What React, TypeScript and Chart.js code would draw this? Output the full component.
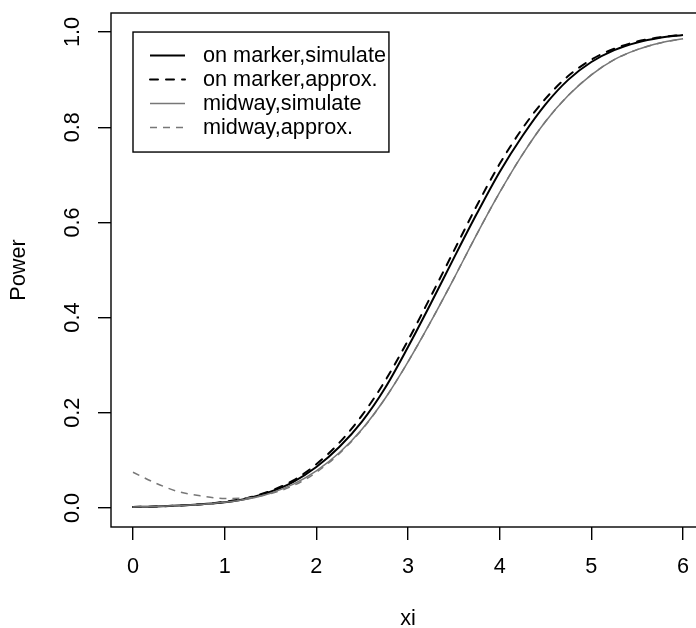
import React, { useEffect, useRef } from 'react';
import { Chart, registerables } from 'chart.js';

Chart.register(...registerables);

// ---- data ----
const xi = [0, 0.25, 0.5, 0.75, 1, 1.25, 1.5, 1.75, 2, 2.25, 2.5, 2.75, 3, 3.25, 3.5, 3.75, 4, 4.25, 4.5, 4.75, 5, 5.25, 5.5, 5.75, 6];
const onMarkerSimulate = [0.002, 0.003, 0.005, 0.008, 0.012, 0.02, 0.034, 0.055, 0.086, 0.128, 0.182, 0.252, 0.338, 0.43, 0.525, 0.618, 0.706, 0.782, 0.848, 0.9, 0.937, 0.962, 0.978, 0.988, 0.994];
const onMarkerApprox = [0.002, 0.003, 0.005, 0.008, 0.013, 0.021, 0.036, 0.058, 0.092, 0.137, 0.195, 0.267, 0.352, 0.445, 0.54, 0.635, 0.723, 0.798, 0.86, 0.908, 0.942, 0.965, 0.98, 0.989, 0.994];
const midwaySimulate = [0.002, 0.003, 0.005, 0.008, 0.012, 0.019, 0.031, 0.05, 0.078, 0.116, 0.166, 0.23, 0.307, 0.392, 0.482, 0.575, 0.663, 0.743, 0.812, 0.867, 0.91, 0.942, 0.963, 0.977, 0.986];
const midwayApprox = [0.075, 0.052, 0.034, 0.025, 0.02, 0.021, 0.03, 0.047, 0.075, 0.114, 0.165, 0.23, 0.307, 0.392, 0.482, 0.575, 0.663, 0.743, 0.812, 0.867, 0.91, 0.942, 0.963, 0.977, 0.986];

const seriesLabels = ['on marker,simulate', 'on marker,approx.', 'midway,simulate', 'midway,approx.'];
const xTicks = [0, 1, 2, 3, 4, 5, 6];
const yTicks = [0, 0.2, 0.4, 0.6, 0.8, 1.0];
const xRange = [-0.24, 6.24];
const yRange = [-0.04, 1.04];
const legendAnchor = { x: 0, y: 1 };
const xTitle = 'xi';
const yTitle = 'Power';

const FONT = "'Liberation Sans', Arial, Helvetica, sans-serif";
const FS = 21.67;
const GRAY = '#777777';

const toPts = (ys: number[]) => ys.map((y, i) => ({ x: xi[i], y }));

const rPlugin = {
  id: 'rStyle',
  afterDatasetsDraw(chart: any) {
    const { ctx, scales, chartArea: ca } = chart;
    ctx.save();
    // plot frame
    ctx.strokeStyle = '#000';
    ctx.lineWidth = 1.4;
    ctx.setLineDash([]);
    ctx.strokeRect(ca.left, ca.top, ca.right - ca.left, ca.bottom - ca.top);

    // legend
    const left = scales.x.getPixelForValue(legendAnchor.x);
    const top = scales.y.getPixelForValue(legendAnchor.y);
    ctx.font = `${FS}px ${FONT}`;
    const ds = chart.data.datasets;
    const textX = left + 70;
    const maxW = Math.max(...ds.map((d: any) => ctx.measureText(d.label).width));
    const rowH = 24;
    const firstRow = top + 23.5;
    const bottom = firstRow + rowH * (ds.length - 1) + 24.5;
    const right = textX + maxW + 3;
    ctx.fillStyle = '#fff';
    ctx.fillRect(left, top, right - left, bottom - top);
    ctx.strokeStyle = '#000';
    ctx.lineWidth = 1.4;
    ctx.strokeRect(left, top, right - left, bottom - top);
    ds.forEach((d: any, i: number) => {
      const y = firstRow + i * rowH;
      ctx.beginPath();
      ctx.setLineDash(d.borderDash || []);
      ctx.lineCap = d.borderCapStyle || 'butt';
      ctx.strokeStyle = d.borderColor;
      ctx.lineWidth = d.borderWidth;
      ctx.moveTo(left + 17, y);
      ctx.lineTo(left + 52, y);
      ctx.stroke();
      ctx.setLineDash([]);
      ctx.fillStyle = '#000';
      ctx.textBaseline = 'middle';
      ctx.textAlign = 'left';
      ctx.fillText(d.label, textX, y);
    });
    ctx.restore();
  },
};

export default function App() {
  const ref = useRef<HTMLCanvasElement | null>(null);
  useEffect(() => {
    if (!ref.current) return;
    const chart = new Chart(ref.current, {
      type: 'line',
      data: {
        datasets: [
          { label: seriesLabels[0], data: toPts(onMarkerSimulate), borderColor: '#000', borderWidth: 2, pointRadius: 0, cubicInterpolationMode: 'monotone', order: 3 },
          { label: seriesLabels[1], data: toPts(onMarkerApprox), borderColor: '#000', borderWidth: 2, borderDash: [8, 8], borderCapStyle: 'round', pointRadius: 0, cubicInterpolationMode: 'monotone', order: 2 },
          { label: seriesLabels[2], data: toPts(midwaySimulate), borderColor: GRAY, borderWidth: 1.5, pointRadius: 0, cubicInterpolationMode: 'monotone', order: 1 },
          { label: seriesLabels[3], data: toPts(midwayApprox), borderColor: GRAY, borderWidth: 1.5, borderDash: [7, 6], pointRadius: 0, cubicInterpolationMode: 'monotone', order: 0 },
        ] as any,
      },
      options: {
        animation: false,
        responsive: false,
        devicePixelRatio: 1,
        layout: { padding: { top: 13, right: 15, left: 0, bottom: 0 } },
        plugins: { legend: { display: false }, tooltip: { enabled: false } },
        scales: {
          x: {
            type: 'linear',
            position: 'bottom',
            min: xRange[0],
            max: xRange[1],
            afterBuildTicks: (s: any) => { s.ticks = xTicks.map((v) => ({ value: v })); },
            afterFit: (s: any) => { s.height = 101; s.paddingLeft = 0; s.paddingRight = 0; },
            ticks: { color: '#000', font: { family: FONT, size: FS }, padding: 14, maxRotation: 0, minRotation: 0, callback: (v: any) => String(v) },
            grid: { display: true, drawOnChartArea: false, drawTicks: true, tickLength: 13, color: '#000', lineWidth: 1.4 },
            border: { display: false },
            title: { display: true, text: xTitle, color: '#000', font: { family: FONT, size: FS, lineHeight: 0.8 }, padding: 0 },
          },
          y: {
            type: 'linear',
            position: 'left',
            min: yRange[0],
            max: yRange[1],
            afterBuildTicks: (s: any) => { s.ticks = yTicks.map((v) => ({ value: v })); },
            afterFit: (s: any) => { s.width = 111; s.paddingTop = 0; s.paddingBottom = 0; },
            ticks: { color: '#000', font: { family: FONT, size: FS }, padding: 10, minRotation: 90, maxRotation: 90, crossAlign: 'center', callback: (v: any) => Number(v).toFixed(1) },
            grid: { display: true, drawOnChartArea: false, drawTicks: true, tickLength: 13, color: '#000', lineWidth: 1.4 },
            border: { display: false },
            title: { display: true, text: yTitle, color: '#000', font: { family: FONT, size: FS, lineHeight: 1.2 }, padding: { top: 6, bottom: 0 } },
          },
        },
      } as any,
      plugins: [rPlugin],
    });
    return () => chart.destroy();
  }, []);

  return (
    <div style={{ position: 'absolute', left: 0, top: 0, width: 696, height: 628, overflow: 'hidden', background: '#fff' }}>
      <canvas ref={ref} width={720} height={628} style={{ display: 'block', width: 720, height: 628 }} />
    </div>
  );
}
